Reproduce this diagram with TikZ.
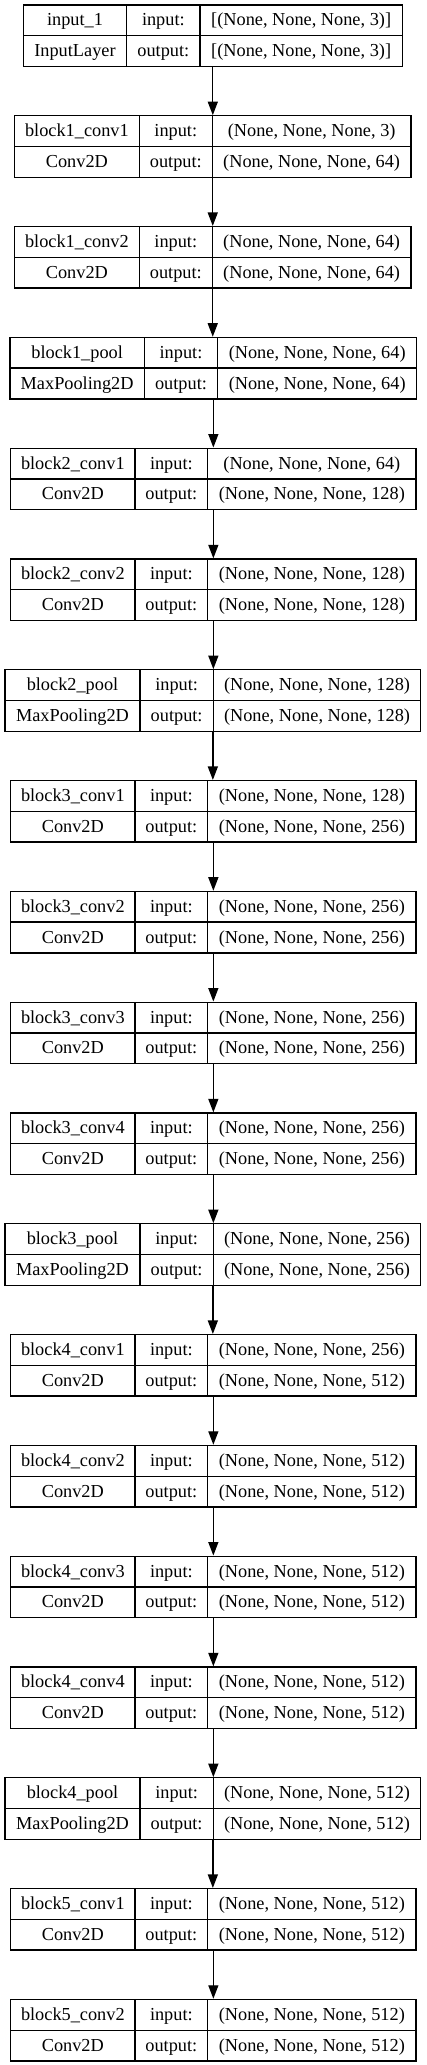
\documentclass[tikz,border=0pt]{standalone}
\usepackage{fontspec}
\setmainfont{Liberation Serif}
\usetikzlibrary{arrows.meta}
\newcommand\kshape[1]{(None, None, None, #1)}

\begin{document}
\begin{tikzpicture}[x=1pt,y=-1pt,
  font=\fontsize{18.3}{22}\selectfont,
  box/.style={rectangle,draw,line width=1.33pt,minimum height=61.5pt,inner sep=0pt},
  sep/.style={line width=1.33pt},
  txt/.style={inner sep=0pt,text height=11pt,text depth=0pt},
  ar/.style={-{Triangle[length=13.5pt,width=10pt]},line width=1.33pt}
]
\useasboundingbox (0,0) rectangle (427,2065);
% one table per layer: name | input: | shape / class | output: | shape
\foreach \row/\id/\nm/\cls/\xa/\xb/\xc/\xd/\sin/\sout in {
  0/inp/input\_1/InputLayer/23.3/126.7/200/402.3/[\kshape{3}]/[\kshape{3}],
  1/b1c1/block1\_conv1/Conv2D/14.5/139.3/212.3/411/\kshape{3}/\kshape{64},
  2/b1c2/block1\_conv2/Conv2D/14.5/139.3/212.3/411/\kshape{64}/\kshape{64},
  3/b1p/block1\_pool/MaxPooling2D/10/144.3/217.7/416.7/\kshape{64}/\kshape{64},
  4/b2c1/block2\_conv1/Conv2D/10.7/135/207.7/416/\kshape{64}/\kshape{128},
  5/b2c2/block2\_conv2/Conv2D/10.7/135/207.7/416/\kshape{128}/\kshape{128},
  6/b2p/block2\_pool/MaxPooling2D/5/140/213.3/420.7/\kshape{128}/\kshape{128},
  7/b3c1/block3\_conv1/Conv2D/10.7/135/207.7/416/\kshape{128}/\kshape{256},
  8/b3c2/block3\_conv2/Conv2D/10.7/135/207.7/416/\kshape{256}/\kshape{256},
  9/b3c3/block3\_conv3/Conv2D/10.7/135/207.7/416/\kshape{256}/\kshape{256},
  10/b3c4/block3\_conv4/Conv2D/10.7/135/207.7/416/\kshape{256}/\kshape{256},
  11/b3p/block3\_pool/MaxPooling2D/5/140/213.3/420.7/\kshape{256}/\kshape{256},
  12/b4c1/block4\_conv1/Conv2D/10.7/135/207.7/416/\kshape{256}/\kshape{512},
  13/b4c2/block4\_conv2/Conv2D/10.7/135/207.7/416/\kshape{512}/\kshape{512},
  14/b4c3/block4\_conv3/Conv2D/10.7/135/207.7/416/\kshape{512}/\kshape{512},
  15/b4c4/block4\_conv4/Conv2D/10.7/135/207.7/416/\kshape{512}/\kshape{512},
  16/b4p/block4\_pool/MaxPooling2D/5/140/213.3/420.7/\kshape{512}/\kshape{512},
  17/b5c1/block5\_conv1/Conv2D/10.7/135/207.7/416/\kshape{512}/\kshape{512},
  18/b5c2/block5\_conv2/Conv2D/10.7/135/207.7/416/\kshape{512}/\kshape{512}}{
  \pgfmathsetmacro\ytop{5+\row*110.8}
  \pgfmathsetmacro\ybot{\ytop+61.5}
  \pgfmathsetmacro\ymid{\ytop+30.75}
  \pgfmathsetmacro\bw{\xd-\xa}
  \node[box,minimum width=\bw pt] (\id) at ({(\xa+\xd)/2},\ymid) {};
  \draw[sep] (\xa,\ymid) -- (\xd,\ymid) (\xb,\ytop) -- (\xb,\ybot) (\xc,\ytop) -- (\xc,\ybot);
  \node[txt] (\id-nm) at ({(\xa+\xb)/2},\ytop+15.4) {\nm};
  \node[txt] (\id-cls) at ({(\xa+\xb)/2},\ytop+46.1) {\cls};
  \node[txt] (\id-in) at ({(\xb+\xc)/2},\ytop+15.4) {input:};
  \node[txt] (\id-out) at ({(\xb+\xc)/2},\ytop+46.1) {output:};
  \node[txt] (\id-sin) at ({(\xc+\xd)/2},\ytop+15.4) {\sin};
  \node[txt] (\id-sout) at ({(\xc+\xd)/2},\ytop+46.1) {\sout};
}
\foreach \a/\b in {inp/b1c1,b1c1/b1c2,b1c2/b1p,b1p/b2c1,b2c1/b2c2,b2c2/b2p,
  b2p/b3c1,b3c1/b3c2,b3c2/b3c3,b3c3/b3c4,b3c4/b3p,b3p/b4c1,b4c1/b4c2,
  b4c2/b4c3,b4c3/b4c4,b4c4/b4p,b4p/b5c1,b5c1/b5c2}
  \draw[ar] (\a.south) -- (\a.south |- \b.north);
\end{tikzpicture}
\end{document}
